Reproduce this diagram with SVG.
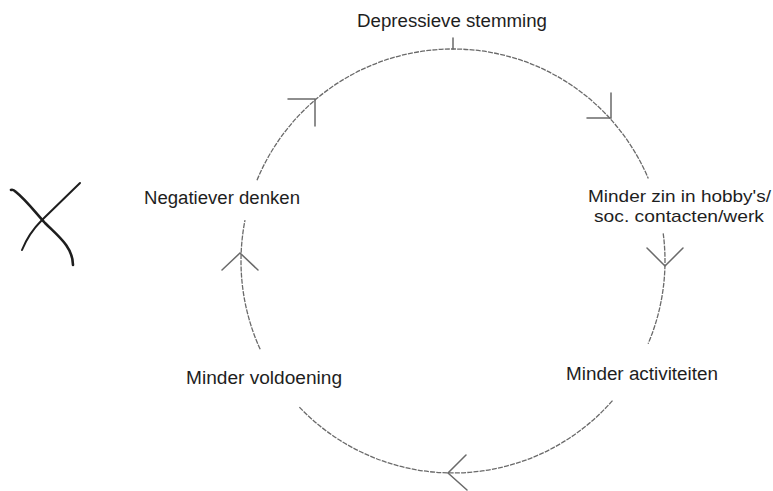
<svg xmlns="http://www.w3.org/2000/svg" width="773" height="491" viewBox="0 0 773 491">
<style>
  .lbl { font-family: "Liberation Sans", Arial, Helvetica, sans-serif; font-size: 18px; fill: #1e1e1e; }
  .sm { font-size: 17px; }
  .arc { fill: none; stroke: #6a6a6a; stroke-width: 1.3; stroke-dasharray: 5 1.2; }
  .head { fill: none; stroke: #6a6a6a; stroke-width: 1.5; stroke-linecap: round; }
  .mark { fill: none; stroke: #1e1e1e; stroke-linecap: round; }
</style>
<rect width="773" height="491" fill="#ffffff"/>
<g id="connectors">
  <path class="arc" d="M257,180.2 A212,212 0 0 1 648.3,178.5"/>
  <path class="arc" d="M663.2,233.3 A212,212 0 0 1 648.1,343.8"/>
  <path class="arc" d="M612.5,400.6 A212,212 0 0 1 299.2,406.9"/>
  <path class="arc" d="M260.2,349.3 A212,212 0 0 1 245,220.2"/>
  <line class="head" x1="453" y1="49" x2="453" y2="38"/>
  <path class="head" d="M288,99 L315,99 L315,126"/>
  <path class="head" d="M611,93 L611,118 L587,118"/>
  <path class="head" d="M647,248 L665,266 L683,248"/>
  <path class="head" d="M466,455 L448,473 L467,490"/>
  <path class="head" d="M222,270 L240,253 L258,270"/>
</g>
<g id="node-depressieve">
  <text class="lbl" x="357" y="27" textLength="190" lengthAdjust="spacingAndGlyphs">Depressieve stemming</text>
</g>
<g id="node-minder-zin">
  <text class="lbl sm" x="588" y="202" textLength="183" lengthAdjust="spacingAndGlyphs">Minder zin in hobby's/</text>
  <text class="lbl sm" x="594" y="222" textLength="170" lengthAdjust="spacingAndGlyphs">soc. contacten/werk</text>
</g>
<g id="node-minder-activiteiten">
  <text class="lbl" x="566" y="380" textLength="152" lengthAdjust="spacingAndGlyphs">Minder activiteiten</text>
</g>
<g id="node-minder-voldoening">
  <text class="lbl" x="186" y="384" textLength="156" lengthAdjust="spacingAndGlyphs">Minder voldoening</text>
</g>
<g id="node-negatiever">
  <text class="lbl" x="144" y="204" textLength="156" lengthAdjust="spacingAndGlyphs">Negatiever denken</text>
</g>
<g id="cross-mark">
  <path class="mark" stroke-width="2.6" d="M11,190 Q13,189 16,192 C26,200 35,212 45,223 C58,236 73,247 73,265"/>
  <path class="mark" stroke-width="2" d="M22,250 C26,240 33,229 42,220 L80,183"/>
</g>
</svg>
